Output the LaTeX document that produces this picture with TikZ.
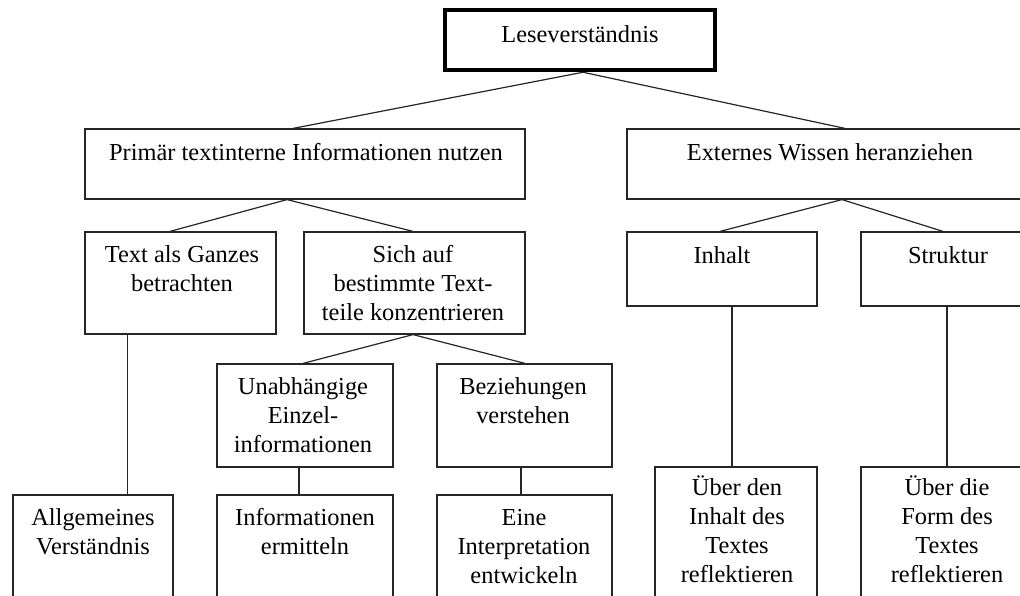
\documentclass[tikz,border=0pt]{standalone}
\usepackage{fontspec}
\setmainfont{Liberation Serif}
\begin{document}
\begin{tikzpicture}[x=1pt,y=-1pt,
  box/.style={draw=black!85, line width=1.2pt, inner sep=0pt, rectangle},
  topbox/.style={draw=black, line width=4.5pt, inner sep=0pt, rectangle},
  txt/.style={inner sep=0pt, align=center, anchor=base, font=\fontsize{24.4pt}{29pt}\selectfont},
  conn/.style={draw=black!85, line width=1.2pt}]
\useasboundingbox (0,0) rectangle (1020,596);
\clip (0,0) rectangle (1020,596);
\fill[white] (0,0) rectangle (1020,596);
% boxes (centre x, centre y)
\node[topbox, minimum width=270pt, minimum height=60pt] (top) at (580,40) {};
\node[box, minimum width=440pt, minimum height=70pt] (prim) at (305,164) {};
\node[box, minimum width=408pt, minimum height=70pt] (ext) at (831,164) {};
\node[box, minimum width=191pt, minimum height=102pt] (ganz) at (180.5,283) {};
\node[box, minimum width=221pt, minimum height=102pt] (sich) at (414.5,283) {};
\node[box, minimum width=190pt, minimum height=74pt] (inh) at (722,269) {};
\node[box, minimum width=174pt, minimum height=74pt] (str) at (948,269) {};
\node[box, minimum width=176pt, minimum height=103pt] (unab) at (305,415.5) {};
\node[box, minimum width=175pt, minimum height=103pt] (bez) at (524.5,415.5) {};
\node[box, minimum width=160pt, minimum height=130pt] (allg) at (93,560) {};
\node[box, minimum width=176pt, minimum height=130pt] (ermit) at (305,560) {};
\node[box, minimum width=175pt, minimum height=130pt] (interp) at (524.5,560) {};
\node[box, minimum width=162pt, minimum height=160pt] (ueinh) at (736,547) {};
\node[box, minimum width=174pt, minimum height=160pt] (uform) at (948,547) {};
% texts (anchor = baseline of the last line)
\node[txt] (topT) at (580,43) {Leseverständnis};
\node[txt] (primT) at (306,161) {Primär textinterne Informationen nutzen};
\node[txt] (extT) at (830,161) {Externes Wissen heranziehen};
\node[txt] (ganzT) at (182,291) {Text als Ganzes\\betrachten};
\node[txt] (sichT) at (413,320) {Sich auf\\bestimmte Text-\\teile konzentrieren};
\node[txt] (inhT) at (722,263) {Inhalt};
\node[txt] (strT) at (948,263) {Struktur};
\node[txt] (unabT) at (303,452) {Unabhängige\\Einzel-\\informationen};
\node[txt] (bezT) at (523,423) {Beziehungen\\verstehen};
\node[txt] (allgT) at (93,554) {Allgemeines\\Verständnis};
\node[txt] (ermitT) at (305,554) {Informationen\\ermitteln};
\node[txt] (interpT) at (524,583) {Eine\\Interpretation\\entwickeln};
\node[txt] (ueinhT) at (737,582) {Über den\\Inhalt des\\Textes\\reflektieren};
\node[txt] (uformT) at (947,582) {Über die\\Form des\\Textes\\reflektieren};
% connectors
\draw[conn] ([xshift=-12pt]prim.north) -- ([xshift=3pt]top.south) -- ([xshift=14pt]ext.north);
\draw[conn] ([xshift=-10.5pt]ganz.north) -- ([xshift=-18pt]prim.south) -- ([xshift=-1.5pt]sich.north);
\draw[conn] ([xshift=-2pt]inh.north) -- ([xshift=11pt]ext.south) -- ([xshift=-5pt]str.north);
\draw[conn] ([xshift=-2pt]unab.north) -- ([xshift=-1.5pt]sich.south) -- ([xshift=0.5pt]bez.north);
\coordinate (g1) at ([xshift=43pt]ganz.south west);
\draw[conn] (g1) -- (g1 |- allg.north);
\coordinate (u1) at ([xshift=-6pt]unab.south);
\draw[conn] (u1) -- (u1 |- ermit.north);
\coordinate (b1) at ([xshift=-3.5pt]bez.south);
\draw[conn] (b1) -- (b1 |- interp.north);
\coordinate (i1) at ([xshift=10pt]inh.south);
\draw[conn] (i1) -- (i1 |- ueinh.north);
\coordinate (s1) at ([xshift=-1pt]str.south);
\draw[conn] (s1) -- (s1 |- uform.north);
\end{tikzpicture}
\end{document}
